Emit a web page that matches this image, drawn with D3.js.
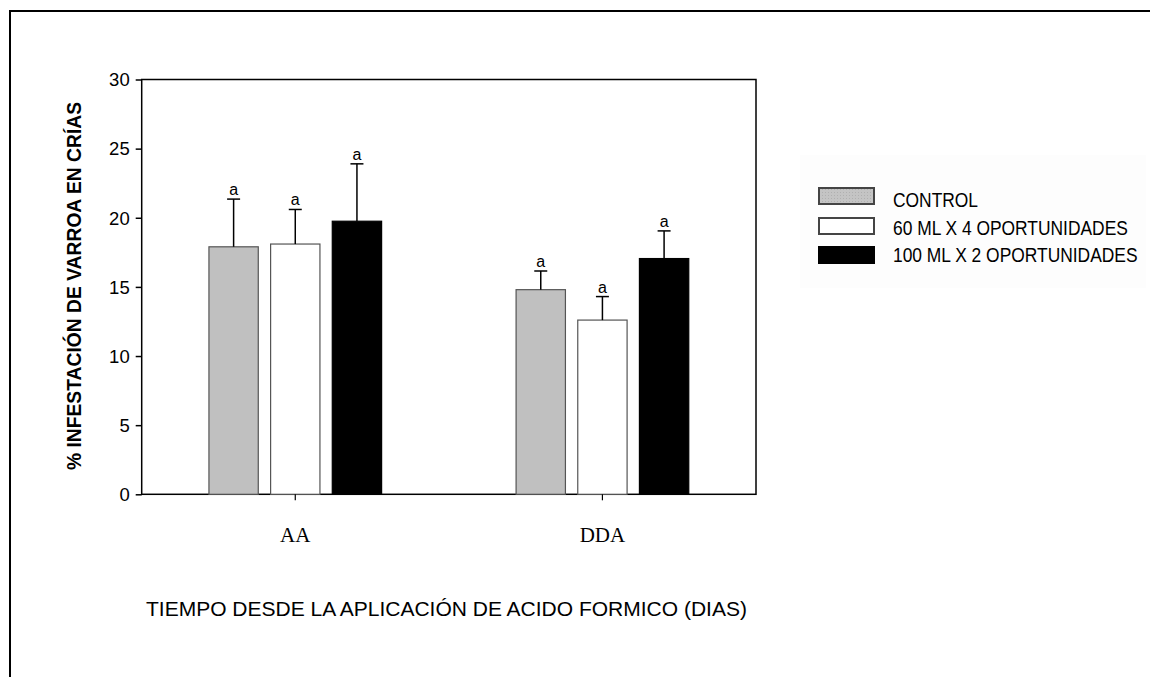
<!DOCTYPE html>
<html><head><meta charset="utf-8">
<script src="https://cdn.jsdelivr.net/npm/d3@7"></script>
<style>
html,body{margin:0;padding:0;background:#fff;}
svg{display:block;}
</style></head>
<body>
<script>
const categories = ["AA", "DDA"];
const seriesNames = ["CONTROL", "60 ML X 4 OPORTUNIDADES", "100 ML X 2 OPORTUNIDADES"];
const controlValues = [17.9, 14.8];
const ml60Values = [18.1, 12.6];
const ml100Values = [19.75, 17.05];
const controlErr = [3.45, 1.35];
const ml60Err = [2.5, 1.7];
const ml100Err = [4.15, 2.0];
const sigLetters = [["a","a"],["a","a"],["a","a"]];
const yTicks = [0, 5, 10, 15, 20, 25, 30];
const yTitle = "% INFESTACIÓN DE VARROA EN CRÍAS";
const xTitle = "TIEMPO DESDE LA APLICACIÓN DE ACIDO FORMICO (DIAS)";

const values = [controlValues, ml60Values, ml100Values];
const errs = [controlErr, ml60Err, ml100Err];
const fills = ["#c0c0c0", "#ffffff", "#000000"];

const W = 1150, H = 677;
const svg = d3.select("body").append("svg").attr("width", W).attr("height", H);

// outer frame (top & left)
svg.append("path").attr("d", `M10,${H} L10,11 L${W},11`).attr("fill","none")
  .attr("stroke","#000").attr("stroke-width",2);

const L = 141.7, R = 756, T = 79.5, B = 494.3;
const x = d3.scaleBand().domain(categories).range([L, R]).paddingInner(0).paddingOuter(0);
const xs = d3.scaleBand().domain(d3.range(3)).range([-92.5, 92.5]).paddingInner(0.2).paddingOuter(0.1);
const y = d3.scaleLinear().domain([0, 30]).range([B, T]);

// plot frame
svg.append("rect").attr("x", L).attr("y", T).attr("width", R-L).attr("height", B-T)
  .attr("fill","none").attr("stroke","#000").attr("stroke-width",1.5);

// bars
const g = svg.append("g");
values.forEach((vals, si) => {
  vals.forEach((v, ci) => {
    const bx = x(categories[ci]) + x.bandwidth()/2 + xs(si);
    const bw = xs.bandwidth();
    g.append("rect").attr("x", bx).attr("y", y(v)).attr("width", bw).attr("height", y(0)-y(v))
      .attr("fill", fills[si]).attr("stroke", si===2 ? "#000" : "#555").attr("stroke-width", 1.2);
    const cx = bx + bw/2;
    const top = v + errs[si][ci];
    g.append("line").attr("x1", cx).attr("x2", cx).attr("y1", y(v)).attr("y2", y(top))
      .attr("stroke","#000").attr("stroke-width",1.5);
    g.append("line").attr("x1", cx-6.5).attr("x2", cx+6.5).attr("y1", y(top)).attr("y2", y(top))
      .attr("stroke","#000").attr("stroke-width",1.5);
    g.append("text").attr("x", cx).attr("y", y(top)-4).attr("text-anchor","middle")
      .attr("font-family","Liberation Sans, Arial, sans-serif").attr("font-size",16)
      .text(sigLetters[si][ci]);
  });
});

// y axis
const yAxis = svg.append("g").attr("transform", `translate(${L},0)`)
  .call(d3.axisLeft(y).tickValues(yTicks).tickSize(6).tickPadding(6).tickFormat(d3.format("d")));
yAxis.select(".domain").remove();
yAxis.selectAll(".tick line").attr("stroke","#000").attr("stroke-width",1.5);
yAxis.selectAll(".tick text").attr("font-family","Liberation Sans, Arial, sans-serif")
  .attr("font-size",18.5).attr("fill","#000").attr("dy","0.34em");

// x axis ticks
const xAxis = svg.append("g").attr("transform", `translate(0,${B})`)
  .call(d3.axisBottom(x).tickSize(6).tickPadding(0).tickFormat(""));
xAxis.select(".domain").remove();
xAxis.selectAll(".tick line").attr("stroke","#000").attr("stroke-width",1.2);
svg.append("g").selectAll("text").data(categories).join("text")
  .attr("x", d => x(d) + x.bandwidth()/2).attr("y", 542)
  .attr("text-anchor","middle").attr("font-family","Liberation Serif, Times New Roman, serif")
  .attr("font-size",21).attr("fill","#000").text(d => d);

// y title
svg.append("text").attr("transform", `translate(81,286) rotate(-90)`)
  .attr("text-anchor","middle").attr("font-family","Liberation Sans, Arial, sans-serif")
  .attr("font-weight","bold").attr("font-size",19.3).text(yTitle);

// x title
svg.append("text").attr("x", 146).attr("y", 616)
  .attr("font-family","Liberation Sans, Arial, sans-serif").attr("font-size",21).text(xTitle);

// legend
svg.append("rect").attr("x", 800).attr("y", 155).attr("width", 346).attr("height", 133).attr("fill","#fdfdfd");
const defs = svg.append("defs");
const pat = defs.append("pattern").attr("id","stip").attr("width",3).attr("height",3).attr("patternUnits","userSpaceOnUse");
pat.append("rect").attr("width",3).attr("height",3).attr("fill","#c4c4c4");
pat.append("rect").attr("width",1).attr("height",1).attr("fill","#b0b0b0");
const lg = svg.append("g");
seriesNames.forEach((name, i) => {
  const yy = 188 + i*30 - (i===2?1:0);
  lg.append("rect").attr("x", 819).attr("y", yy).attr("width", 55).attr("height", 16)
    .attr("fill", i===0 ? "url(#stip)" : fills[i]).attr("stroke", i===2 ? "#000" : "#444").attr("stroke-width", 2);
  lg.append("text").attr("transform", `translate(893,${207 + i*27.5}) scale(0.87,1)`)
    .attr("font-family","Liberation Sans, Arial, sans-serif")
    .attr("font-size",20).attr("fill","#000").text(name);
});
</script>
</body></html>
